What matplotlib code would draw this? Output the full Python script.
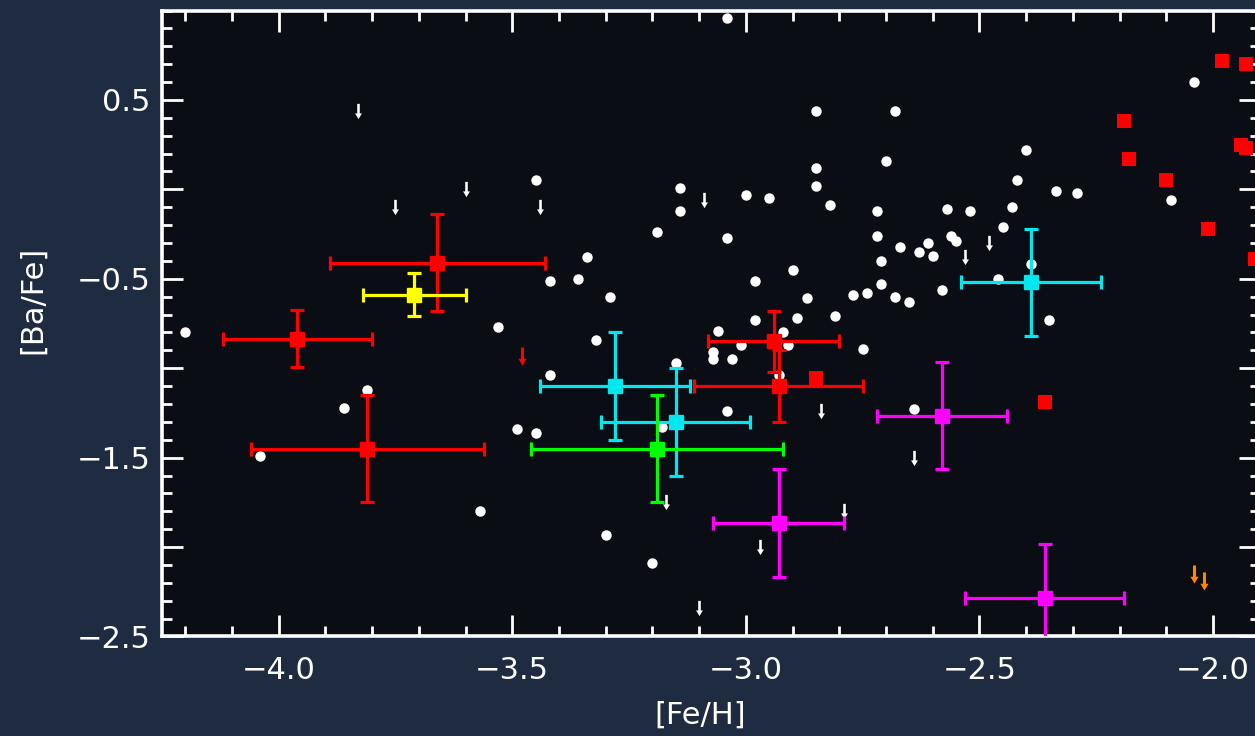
import matplotlib
matplotlib.use("Agg")
import matplotlib.pyplot as plt
from matplotlib.path import Path
from matplotlib.ticker import MultipleLocator, FixedLocator
import numpy as np

# ---------------- data ----------------
# field stars (white dots)
dots_feh = [-4.20, -4.04, -3.86, -3.81, -3.57, -3.53, -3.49, -3.45, -3.45, -3.42,
            -3.42, -3.36, -3.34, -3.32, -3.29, -3.30, -3.20, -3.19, -3.14, -3.14,
            -3.04, -3.00, -2.95, -3.04, -2.98, -2.98, -3.06, -3.07, -3.07, -3.03,
            -3.01, -3.04, -3.18, -3.15,
            -2.85, -2.68, -2.85, -2.85, -2.70, -2.82, -2.40, -2.42, -2.335, -2.72,
            -2.57, -2.52, -2.43, -2.45, -2.72, -2.67, -2.61, -2.63, -2.60, -2.56,
            -2.55, -2.71, -2.39, -2.46, -2.90, -2.87, -2.89, -2.81, -2.77, -2.74,
            -2.71, -2.68, -2.65, -2.58, -2.35, -2.75, -2.92, -2.91, -2.93,
            -2.04, -2.29, -2.09, -2.64]
dots_ba = [-0.80, -1.49, -1.22, -1.12, -1.80, -0.77, -1.34, -1.36, 0.05, -0.51,
           -1.04, -0.50, -0.38, -0.84, -0.60, -1.93, -2.09, -0.24, 0.01, -0.12,
           0.96, -0.03, -0.05, -0.27, -0.51, -0.73, -0.79, -0.91, -0.95, -0.95,
           -0.87, -1.24, -1.33, -0.97,
           0.44, 0.44, 0.12, 0.02, 0.16, -0.09, 0.22, 0.05, -0.01, -0.12,
           -0.11, -0.12, -0.10, -0.21, -0.26, -0.32, -0.30, -0.35, -0.37, -0.26,
           -0.29, -0.40, -0.42, -0.50, -0.45, -0.61, -0.72, -0.71, -0.59, -0.58,
           -0.53, -0.60, -0.63, -0.56, -0.73, -0.89, -0.80, -0.87, -1.04,
           0.60, -0.02, -0.06, -1.23]

# upper limits (white arrows)
lim_feh = [-3.83, -3.75, -3.60, -3.44, -3.09, -2.48, -2.53, -2.84, -2.64, -2.79,
           -2.97, -3.17, -3.10]
lim_ba = [0.44, -0.10, 0.00, -0.10, -0.06, -0.30, -0.38, -1.24, -1.50, -1.80,
          -2.00, -1.75, -2.34]
red_lim_feh = [-3.48]
red_lim_ba = [-0.93]
orange_lim_feh = [-2.04, -2.02]
orange_lim_ba = [-2.15, -2.19]

# red squares without error bars
rsq_feh = [-1.98, -1.93, -2.19, -2.18, -2.10, -1.94, -1.93, -2.01, -1.91, -2.36, -2.85]
rsq_ba = [0.72, 0.70, 0.38, 0.17, 0.05, 0.25, 0.23, -0.22, -0.39, -1.19, -1.055]

# objects with error bars
red_feh = [-3.96, -3.66, -3.81, -2.94, -2.93]
red_ba = [-0.835, -0.41, -1.45, -0.85, -1.10]
red_xerr = [0.16, 0.23, 0.25, 0.14, 0.18]
red_yerr = [0.16, 0.27, 0.30, 0.17, 0.20]

yel_feh = [-3.71]
yel_ba = [-0.59]
yel_xerr = [0.11]
yel_yerr = [0.12]

cyan_feh = [-3.28, -3.15, -2.39]
cyan_ba = [-1.10, -1.30, -0.52]
cyan_xerr = [0.16, 0.16, 0.15]
cyan_yerr = [0.30, 0.30, 0.30]

green_feh = [-3.19]
green_ba = [-1.45]
green_xerr = [0.27]
green_yerr = [0.30]

mag_feh = [-2.58, -2.93, -2.36]
mag_ba = [-1.265, -1.865, -2.285]
mag_xerr = [0.14, 0.14, 0.17]
mag_yerr = [0.30, 0.30, 0.30]

xtick_vals = [-4.0, -3.5, -3.0, -2.5, -2.0]
xtick_labels = ["\u22124.0", "\u22123.5", "\u22123.0", "\u22122.5", "\u22122.0"]
ytick_vals = [0.5, 0.0, -0.5, -1.0, -1.5, -2.0, -2.5]
ytick_labels = ["0.5", "", "\u22120.5", "", "\u22121.5", "", "\u22122.5"]

# ---------------- figure ----------------
BG = "#1f2b41"
AX_BG = "#0a0d14"
fig = plt.figure(figsize=(12.55, 7.36), dpi=100, facecolor=BG)
ax = fig.add_axes([0.129, 0.1352, 0.8747, 0.8505])
ax.set_facecolor(AX_BG)
ax.set_xlim(-4.25, -1.90)
ax.set_ylim(-2.5, 1.0)

# arrow marker
arrow = Path([(-0.17, 1.0), (0.17, 1.0), (0.17, -0.25), (0.45, -0.25), (0.0, -1.0),
              (-0.45, -0.25), (-0.17, -0.25), (-0.17, 1.0)],
             [Path.MOVETO] + [Path.LINETO] * 6 + [Path.CLOSEPOLY])

ax.plot(dots_feh, dots_ba, 'o', color='white', ms=7.5, mew=0, zorder=2)
ax.plot(lim_feh, lim_ba, ls='none', marker=arrow, color='white', ms=11, mew=0, zorder=2)
ax.plot(red_lim_feh, red_lim_ba, ls='none', marker=arrow, color='#ff0000', ms=13, mew=0, zorder=2)
ax.plot(orange_lim_feh, orange_lim_ba, ls='none', marker=arrow, color='#ff8800', ms=13, mew=0, zorder=2)
ax.plot(rsq_feh, rsq_ba, 's', color='#ff0000', ms=10.5, mew=0, zorder=3)

ekw = dict(fmt='s', ms=9.5, capsize=4.8, elinewidth=2.3, capthick=2.3, zorder=4)
for xs, ys, xe, ye, c in [(red_feh, red_ba, red_xerr, red_yerr, '#ff0000'),
                          (yel_feh, yel_ba, yel_xerr, yel_yerr, '#ffff00'),
                          (cyan_feh, cyan_ba, cyan_xerr, cyan_yerr, '#00e8ee'),
                          (green_feh, green_ba, green_xerr, green_yerr, '#00ff00'),
                          (mag_feh, mag_ba, mag_xerr, mag_yerr, '#ff00ff')]:
    ax.errorbar(xs, ys, xerr=xe, yerr=ye, color=c, ecolor=c, mfc=c, mec=c, **ekw)

# ---------------- axes styling ----------------
for s in ax.spines.values():
    s.set_color('white')
    s.set_linewidth(2.6)

ax.xaxis.set_major_locator(FixedLocator(xtick_vals))
ax.set_xticklabels(xtick_labels)
ax.xaxis.set_minor_locator(MultipleLocator(0.1))
ax.yaxis.set_major_locator(FixedLocator(ytick_vals))
ax.set_yticklabels(ytick_labels)
ax.yaxis.set_minor_locator(MultipleLocator(0.1))

ax.tick_params(which='both', direction='in', top=True, right=True, color='white',
               labelcolor='white', labelsize=22, width=2.0)
ax.tick_params(which='major', length=15)
ax.tick_params(which='minor', length=7.5)
ax.tick_params(axis='x', which='major', pad=14)
ax.tick_params(axis='y', which='major', pad=8)

ax.set_xlabel("[Fe/H]", color='white', fontsize=22, va='center')
ax.xaxis.set_label_coords(0.490, -0.125)
ax.set_ylabel("[Ba/Fe]", color='white', fontsize=22, va='center')
ax.yaxis.set_label_coords(-0.118, 0.5375)

fig.savefig("out.png", dpi=100, facecolor=fig.get_facecolor())
